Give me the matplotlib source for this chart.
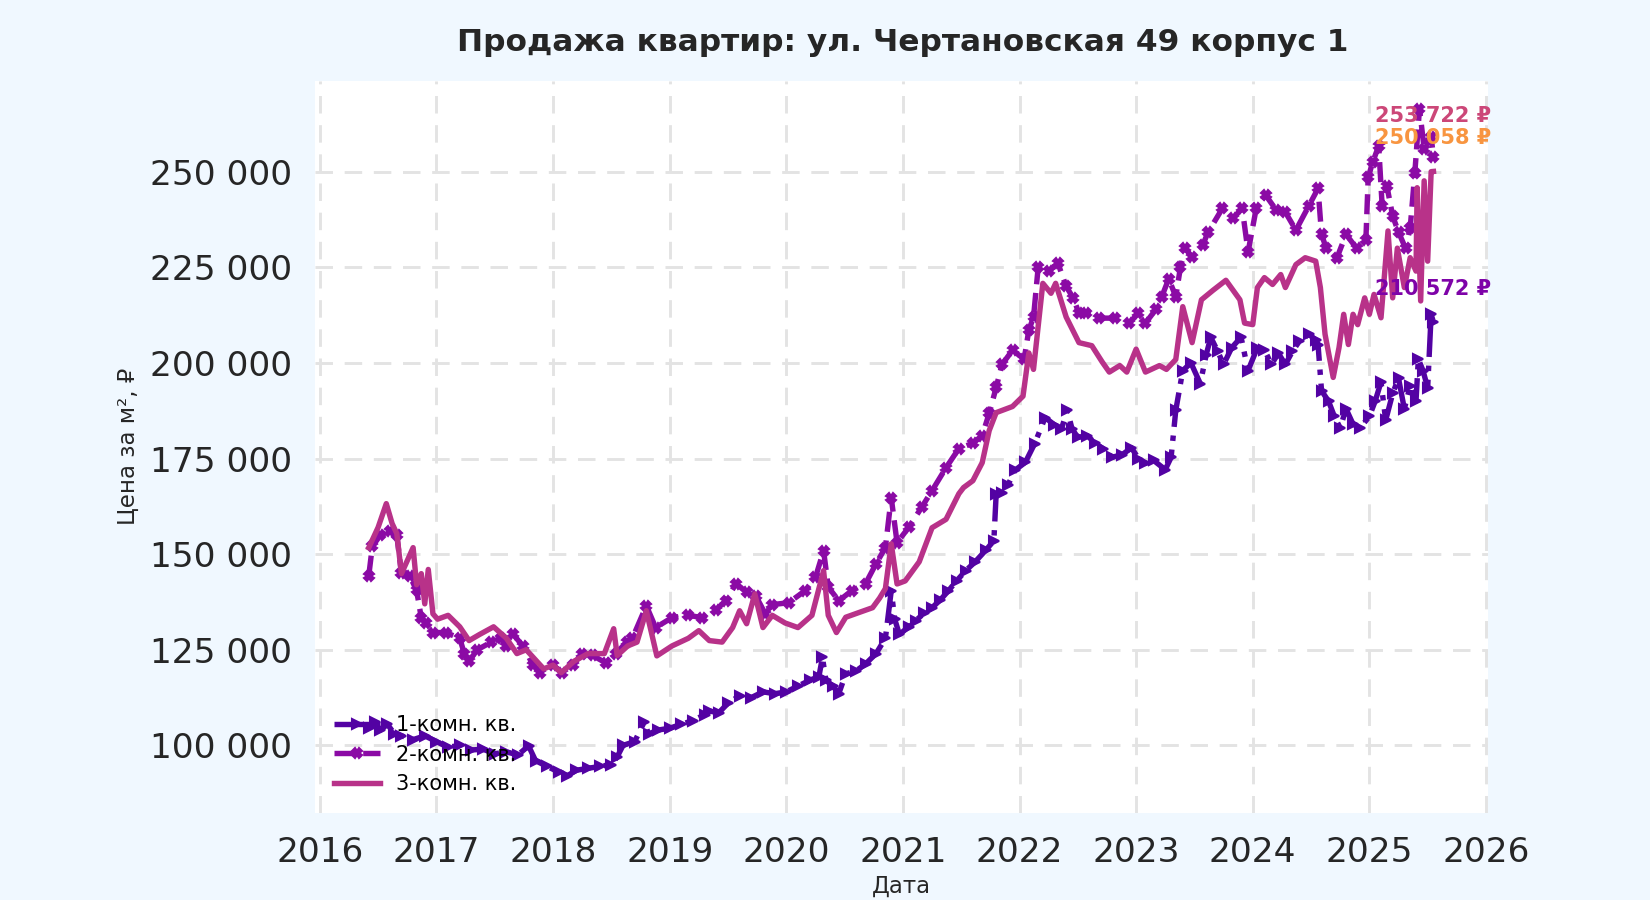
import matplotlib
matplotlib.use('Agg')
import matplotlib.pyplot as plt
from matplotlib.ticker import FuncFormatter

# 1-комн. кв.
t1 = [2016.42, 2016.47, 2016.52, 2016.58, 2016.64, 2016.70, 2016.80, 2016.90, 2017.00, 2017.10,
      2017.20, 2017.30, 2017.40, 2017.50, 2017.60, 2017.70, 2017.79, 2017.85, 2017.95, 2018.05,
      2018.12, 2018.20, 2018.30, 2018.40, 2018.50, 2018.55, 2018.60, 2018.70, 2018.78, 2018.82,
      2018.90, 2019.00, 2019.10, 2019.20, 2019.30, 2019.34, 2019.42, 2019.50, 2019.60, 2019.70,
      2019.80, 2019.90, 2020.00, 2020.10, 2020.20, 2020.28, 2020.31, 2020.34, 2020.40, 2020.45,
      2020.51, 2020.60, 2020.68, 2020.77, 2020.85, 2020.90, 2020.93, 2020.97, 2021.05, 2021.11,
      2021.18, 2021.25, 2021.32, 2021.39, 2021.46, 2021.54, 2021.62, 2021.71, 2021.78, 2021.80,
      2021.85, 2021.90, 2021.96, 2022.05, 2022.13, 2022.22, 2022.30, 2022.36, 2022.41, 2022.45,
      2022.50, 2022.58, 2022.65, 2022.72, 2022.79, 2022.88, 2022.96, 2023.02, 2023.08, 2023.15,
      2023.25, 2023.30, 2023.34, 2023.40, 2023.47, 2023.55, 2023.60, 2023.64, 2023.70, 2023.75,
      2023.82, 2023.90, 2023.96, 2024.04, 2024.10, 2024.16, 2024.22, 2024.28, 2024.34, 2024.40,
      2024.48, 2024.54, 2024.56, 2024.59, 2024.65, 2024.70, 2024.75, 2024.80, 2024.86, 2024.92,
      2025.00, 2025.05, 2025.10, 2025.14, 2025.20, 2025.25, 2025.30, 2025.35, 2025.40, 2025.42,
      2025.46, 2025.50, 2025.53, 2025.55]
v1 = [104500, 106000, 104000, 105500, 103000, 102500, 101500, 102500, 101000, 99500,
      100000, 98800, 99000, 97800, 98300, 97500, 99900, 96000, 94500, 93000,
      92000, 93500, 94000, 94500, 95000, 97000, 100000, 101000, 106000, 103000,
      104000, 104500, 105500, 106500, 108000, 109000, 108500, 111000, 113000, 112500,
      114000, 113500, 114000, 115500, 117000, 118000, 123000, 117000, 115500, 113500,
      118700, 119500, 121300, 124000, 128000, 140400, 133000, 129000, 131000, 132600,
      134500, 136000, 138000, 140400, 143000, 145700, 148000, 151000, 153500, 165800,
      166000, 168000, 171900, 174000, 178900, 185700, 183800, 182800, 187600, 182800,
      180500, 181000, 179000, 177500, 175300, 176000, 177800, 175000, 173700, 174500,
      172100, 175300, 187600, 198000, 200000, 194600, 202000, 206700, 203000, 199600,
      204000, 206700, 198000, 204000, 203500, 199600, 202500, 199600, 203000, 205700,
      207500, 206000, 204800, 192700, 190000, 186000, 183000, 188000, 184000, 183000,
      186000, 190000, 195000, 185000, 192000, 196000, 188000, 194000, 190000, 201000,
      198000, 193500, 212700, 210572]

# 2-комн. кв.
t2 = [2016.42, 2016.45, 2016.52, 2016.60, 2016.66, 2016.70, 2016.77, 2016.83, 2016.87, 2016.91,
      2016.97, 2017.08, 2017.20, 2017.24, 2017.28, 2017.35, 2017.47, 2017.55, 2017.60, 2017.66,
      2017.74, 2017.83, 2017.89, 2018.00, 2018.08, 2018.17, 2018.25, 2018.34, 2018.45, 2018.54,
      2018.63, 2018.68, 2018.80, 2018.88, 2019.02, 2019.16, 2019.28, 2019.40, 2019.48, 2019.57,
      2019.66, 2019.74, 2019.82, 2019.88, 2020.02, 2020.16, 2020.25, 2020.32, 2020.36, 2020.45,
      2020.56, 2020.68, 2020.77, 2020.85, 2020.90, 2020.95, 2021.05, 2021.16, 2021.25, 2021.37,
      2021.48, 2021.60, 2021.68, 2021.74, 2021.80, 2021.85, 2021.94, 2022.04, 2022.08, 2022.12,
      2022.16, 2022.25, 2022.33, 2022.40, 2022.46, 2022.51, 2022.57, 2022.68, 2022.82, 2022.94,
      2023.02, 2023.08, 2023.17, 2023.22, 2023.28, 2023.34, 2023.38, 2023.42, 2023.48, 2023.57,
      2023.62, 2023.74, 2023.83, 2023.91, 2023.96, 2024.03, 2024.11, 2024.20, 2024.28, 2024.37,
      2024.48, 2024.56, 2024.59, 2024.63, 2024.72, 2024.80, 2024.89, 2024.97, 2024.99, 2025.03,
      2025.08, 2025.11, 2025.15, 2025.20, 2025.25, 2025.31, 2025.35, 2025.39, 2025.43, 2025.47,
      2025.53, 2025.55]
v2 = [144400, 152000, 155000, 156000, 155000, 145000, 144400, 140500, 133400, 132000,
      129500, 129500, 128000, 123900, 122000, 125000, 127000, 128000, 126000, 129000,
      126000, 121000, 119000, 121000, 118800, 121000, 124000, 123500, 121600, 124000,
      127000, 128000, 136500, 130800, 133400, 134000, 133400, 135500, 137800, 142300,
      140000, 139000, 134400, 136800, 137300, 140400, 143900, 150900, 141400, 137800,
      140400, 142300, 147500, 151700, 164800, 153000, 157000, 162200, 166600, 172600,
      177600, 179000, 181000, 186800, 193600, 199600, 203300, 201000, 208600, 211900,
      225000, 224000, 226000, 220000, 217000, 213000, 213000, 211700, 211700, 210400,
      213000, 210400, 214000, 217300, 222000, 217300, 225000, 230000, 227600, 230800,
      234300, 240400, 237800, 240400, 229000, 240400, 243900, 240000, 239400, 234700,
      241000, 245600, 233600, 230000, 227300, 233600, 230000, 232000, 248500, 252600,
      256700, 241000, 246300, 238400, 234200, 230000, 235200, 249700, 266500, 256000,
      259100, 253722]

# 3-комн. кв.
t3 = [2016.42, 2016.50, 2016.57, 2016.62, 2016.66, 2016.70, 2016.80, 2016.83, 2016.87, 2016.90,
      2016.93, 2016.97, 2017.01, 2017.10, 2017.20, 2017.28, 2017.37, 2017.49, 2017.60, 2017.69,
      2017.77, 2017.86, 2017.92, 2018.00, 2018.07, 2018.18, 2018.30, 2018.44, 2018.52, 2018.55,
      2018.64, 2018.72, 2018.80, 2018.89, 2019.02, 2019.16, 2019.25, 2019.34, 2019.45, 2019.54,
      2019.60, 2019.66, 2019.73, 2019.80, 2019.88, 2019.99, 2020.10, 2020.22, 2020.32, 2020.36,
      2020.43, 2020.51, 2020.62, 2020.74, 2020.80, 2020.85, 2020.90, 2020.95, 2021.02, 2021.14,
      2021.25, 2021.37, 2021.48, 2021.52, 2021.60, 2021.68, 2021.74, 2021.80, 2021.94, 2022.03,
      2022.08, 2022.12, 2022.20, 2022.27, 2022.31, 2022.40, 2022.51, 2022.62, 2022.71, 2022.77,
      2022.86, 2022.92, 2023.00, 2023.08, 2023.20, 2023.26, 2023.34, 2023.40, 2023.48, 2023.56,
      2023.66, 2023.77, 2023.89, 2023.93, 2024.00, 2024.04, 2024.10, 2024.17, 2024.24, 2024.28,
      2024.37, 2024.45, 2024.54, 2024.58, 2024.62, 2024.69, 2024.74, 2024.78, 2024.82, 2024.86,
      2024.90, 2024.96, 2025.00, 2025.04, 2025.10, 2025.16, 2025.20, 2025.24, 2025.30, 2025.35,
      2025.40, 2025.41, 2025.44, 2025.47, 2025.50, 2025.53, 2025.55]
v3 = [151700, 157000, 163200, 158000, 155400, 144900, 151700, 142000, 144900, 137000,
      146000, 134400, 133000, 134000, 131000, 127400, 129000, 131000, 128000, 124000,
      125000, 122000, 120000, 121000, 119000, 122000, 124000, 124000, 130500, 123500,
      126000, 127000, 135200, 123400, 126000, 128000, 130000, 127400, 127000, 130800,
      135200, 131800, 139600, 130800, 134000, 132000, 130800, 134000, 145700, 134000,
      129500, 133500, 134700, 136000, 138500, 141000, 152700, 142200, 143000, 148000,
      156900, 159100, 165800, 167400, 169200, 173900, 182300, 187000, 188600, 191300,
      202600, 198300, 220800, 218200, 220800, 212000, 205300, 204500, 200200, 197600,
      199300, 197600, 203600, 197600, 199300, 198300, 200900, 214700, 205300, 216500,
      219000, 221600, 216500, 210400, 210000, 219700, 222300, 220500, 223100, 219700,
      225700, 227500, 226600, 219700, 207500, 196200, 204000, 212700, 204800, 212700,
      210000, 217000, 212700, 217900, 211800, 234500, 217000, 230000, 219700, 227500,
      224000, 245800, 216200, 247600, 226600, 250000, 250058]

labels = ['1-комн. кв.', '2-комн. кв.', '3-комн. кв.']
year_ticks = list(range(2016, 2027))
price_ticks = list(range(100000, 250001, 25000))

line_colors = ['#5302a3', '#8b0aa5', '#b83289']
label_colors = ['#7e03a8', '#cc4778', '#f89540']

fig = plt.figure(figsize=(11, 6), dpi=150, facecolor='#f0f8ff')
ax = fig.add_axes([0.191, 0.097, 0.711, 0.813])
ax.set_facecolor('white')

ax.plot(t1, v1, color=line_colors[0], linestyle='-.', linewidth=2.6,
        marker='>', markersize=5, label=labels[0])
ax.plot(t2, v2, color=line_colors[1], linestyle='--', linewidth=2.6,
        marker='X', markersize=4.5, label=labels[1])
ax.plot(t3, v3, color=line_colors[2], linestyle='-', linewidth=2.6,
        label=labels[2])

# подписи последних значений
for t, v, c, dy in [(t1, v1, label_colors[0], 16),
                    (t2, v2, label_colors[1], 20),
                    (t3, v3, label_colors[2], 16)]:
    ax.annotate(f'{v[-1]:,}'.replace(',', ' ') + ' ₽', xy=(t[-1], v[-1]),
                xytext=(0, dy), textcoords='offset points',
                ha='center', va='center', fontsize=10, fontweight='bold', color=c)

ax.set_xlim(2015.96, 2026.02)
ax.set_ylim(82400, 273700)
ax.set_xticks(year_ticks)
ax.set_yticks(price_ticks)
ax.xaxis.set_major_formatter(FuncFormatter(lambda x, p: f'{int(round(x))}'))
ax.yaxis.set_major_formatter(FuncFormatter(lambda y, p: f'{int(y):,}'.replace(',', ' ')))
ax.tick_params(axis='both', labelsize=16.5, length=0, labelcolor='#262626')
ax.tick_params(axis='x', pad=11)
ax.tick_params(axis='y', pad=11)

ax.grid(True, linestyle='--', color='#e3e3e3', linewidth=1.4, dashes=(6, 4))
ax.set_axisbelow(True)
for s in ax.spines.values():
    s.set_visible(False)

ax.set_xlabel('Дата', fontsize=11, color='#262626', labelpad=3)
ax.set_ylabel('Цена за м², ₽', fontsize=11, color='#262626', labelpad=5)
fig.text(0.547, 0.953, 'Продажа квартир: ул. Чертановская 49 корпус 1',
         ha='center', va='center', fontsize=15, fontweight='bold', color='#262626')

ax.legend(loc='lower left', frameon=False, fontsize=10, handlelength=2.2,
          borderaxespad=0.5, labelspacing=0.45)

fig.savefig('out.png', dpi=150, facecolor=fig.get_facecolor())
